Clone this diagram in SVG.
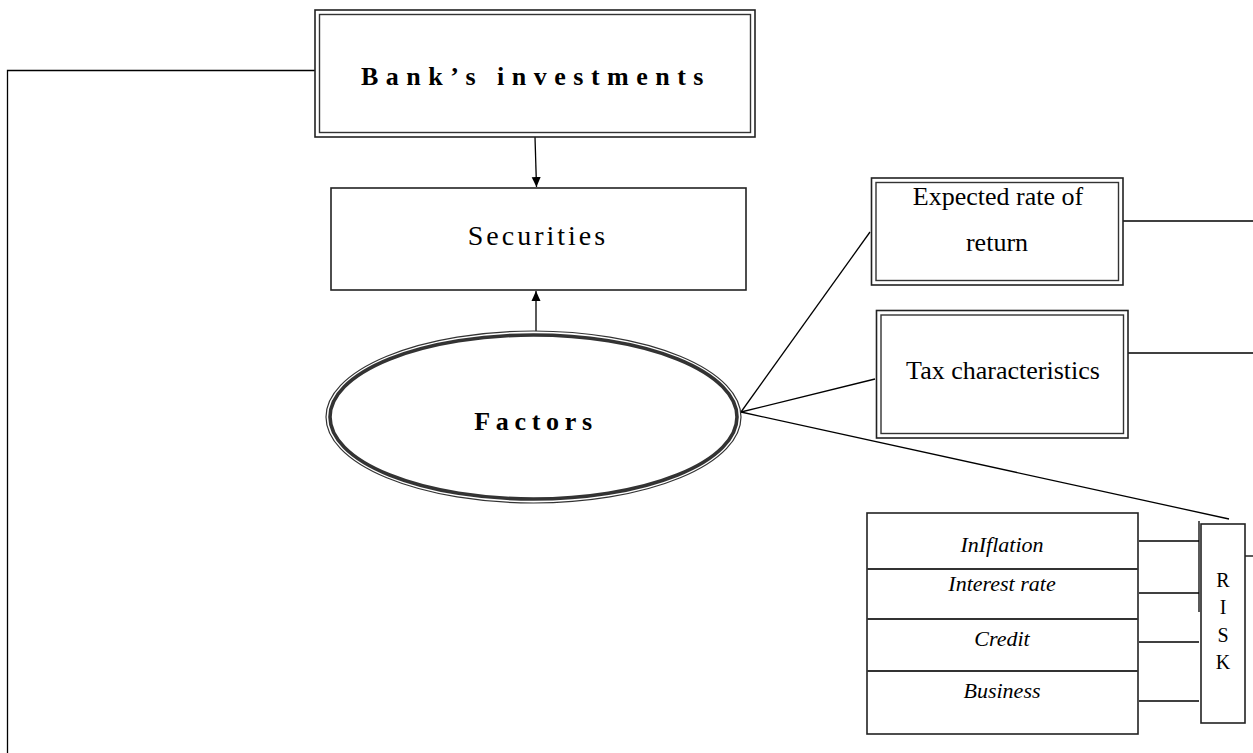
<svg xmlns="http://www.w3.org/2000/svg" width="1253" height="753" viewBox="0 0 1253 753">
<style>
.ln{stroke:#000;stroke-width:1.3;fill:none}
.bx{stroke:#222;stroke-width:1.6;fill:#fff}
.bx2{stroke:#333;stroke-width:1.4;fill:none}
.t{font-family:"Liberation Serif","Times New Roman",serif;fill:#000;text-anchor:middle}
.it{font-style:italic;font-size:22px}
</style>
<defs>
<marker id="ah" viewBox="0 0 10 10" refX="10" refY="5" markerWidth="10" markerHeight="10" markerUnits="userSpaceOnUse" orient="auto">
<path d="M0,0.5 L10,5 L0,9.5 z" fill="#000"/>
</marker>
</defs>
<rect width="1253" height="753" fill="#fff"/>
<g id="connectors">
<polyline class="ln" points="315,70.5 7.5,70.5 7.5,753"/>
<line class="ln" x1="535" y1="137" x2="536.5" y2="187" marker-end="url(#ah)" stroke-width="1.8"/>
<line class="ln" x1="536" y1="331" x2="536" y2="291" marker-end="url(#ah)" stroke-width="2.2"/>
<line class="ln" x1="741" y1="412" x2="870" y2="232"/>
<line class="ln" x1="741" y1="412" x2="875" y2="379"/>
<line class="ln" x1="741" y1="412" x2="1229" y2="519"/>
<line class="ln" x1="1123" y1="221" x2="1253" y2="221"/>
<line class="ln" x1="1128" y1="353" x2="1253" y2="353"/>
<line class="ln" x1="1245" y1="556" x2="1253" y2="556"/>
<line class="ln" x1="1139" y1="541" x2="1199" y2="541"/>
<line class="ln" x1="1139" y1="593" x2="1199" y2="593"/>
<line class="ln" x1="1139" y1="642" x2="1199" y2="642"/>
<line class="ln" x1="1139" y1="701" x2="1199" y2="701"/>
<line class="ln" x1="1199" y1="521" x2="1199" y2="612"/>
</g>
<g id="bank">
<rect class="bx" x="315" y="10" width="440" height="127"/>
<rect class="bx2" x="319.5" y="14.5" width="431" height="118"/>
<text class="t" x="536" y="85" font-size="26" font-weight="bold" letter-spacing="7.5">Bank’s investments</text>
</g>
<g id="securities">
<rect class="bx" x="331" y="188" width="415" height="102"/>
<text class="t" x="538" y="245" font-size="28" letter-spacing="3">Securities</text>
</g>
<g id="factors">
<ellipse cx="533.5" cy="417" rx="207.5" ry="86" fill="#fff" stroke="#333" stroke-width="1.2"/>
<ellipse cx="533.5" cy="417" rx="203.5" ry="82" fill="none" stroke="#333" stroke-width="3.6"/>
<text class="t" x="536" y="430" font-size="26" font-weight="bold" letter-spacing="5.7">Factors</text>
</g>
<g id="expected">
<rect class="bx" x="871.5" y="178" width="251.5" height="107"/>
<rect class="bx2" x="876" y="182.5" width="242.5" height="98"/>
<text class="t" x="998" y="205" font-size="26">Expected rate of</text>
<text class="t" x="997" y="251" font-size="26">return</text>
</g>
<g id="tax">
<rect class="bx" x="876.5" y="310.5" width="251.5" height="127.5"/>
<rect class="bx2" x="881" y="315" width="242.5" height="118.5"/>
<text class="t" x="1003" y="379" font-size="26">Tax characteristics</text>
</g>
<g id="risk-types">
<rect class="bx" x="867" y="513" width="271" height="221"/>
<line x1="867" y1="569" x2="1138" y2="569" stroke="#333" stroke-width="2"/>
<line x1="867" y1="619" x2="1138" y2="619" stroke="#333" stroke-width="2"/>
<line x1="867" y1="671" x2="1138" y2="671" stroke="#333" stroke-width="2"/>
<text class="t it" x="1002" y="552">InIflation</text>
<text class="t it" x="1002" y="591">Interest rate</text>
<text class="t it" x="1002" y="646">Credit</text>
<text class="t it" x="1002" y="698">Business</text>
</g>
<g id="risk">
<rect class="bx" x="1201" y="524" width="44" height="199"/>
<text class="t" x="1223" y="587" font-size="20">R</text>
<text class="t" x="1223" y="614" font-size="20">I</text>
<text class="t" x="1223" y="642" font-size="20">S</text>
<text class="t" x="1223" y="669" font-size="20">K</text>
</g>
</svg>
